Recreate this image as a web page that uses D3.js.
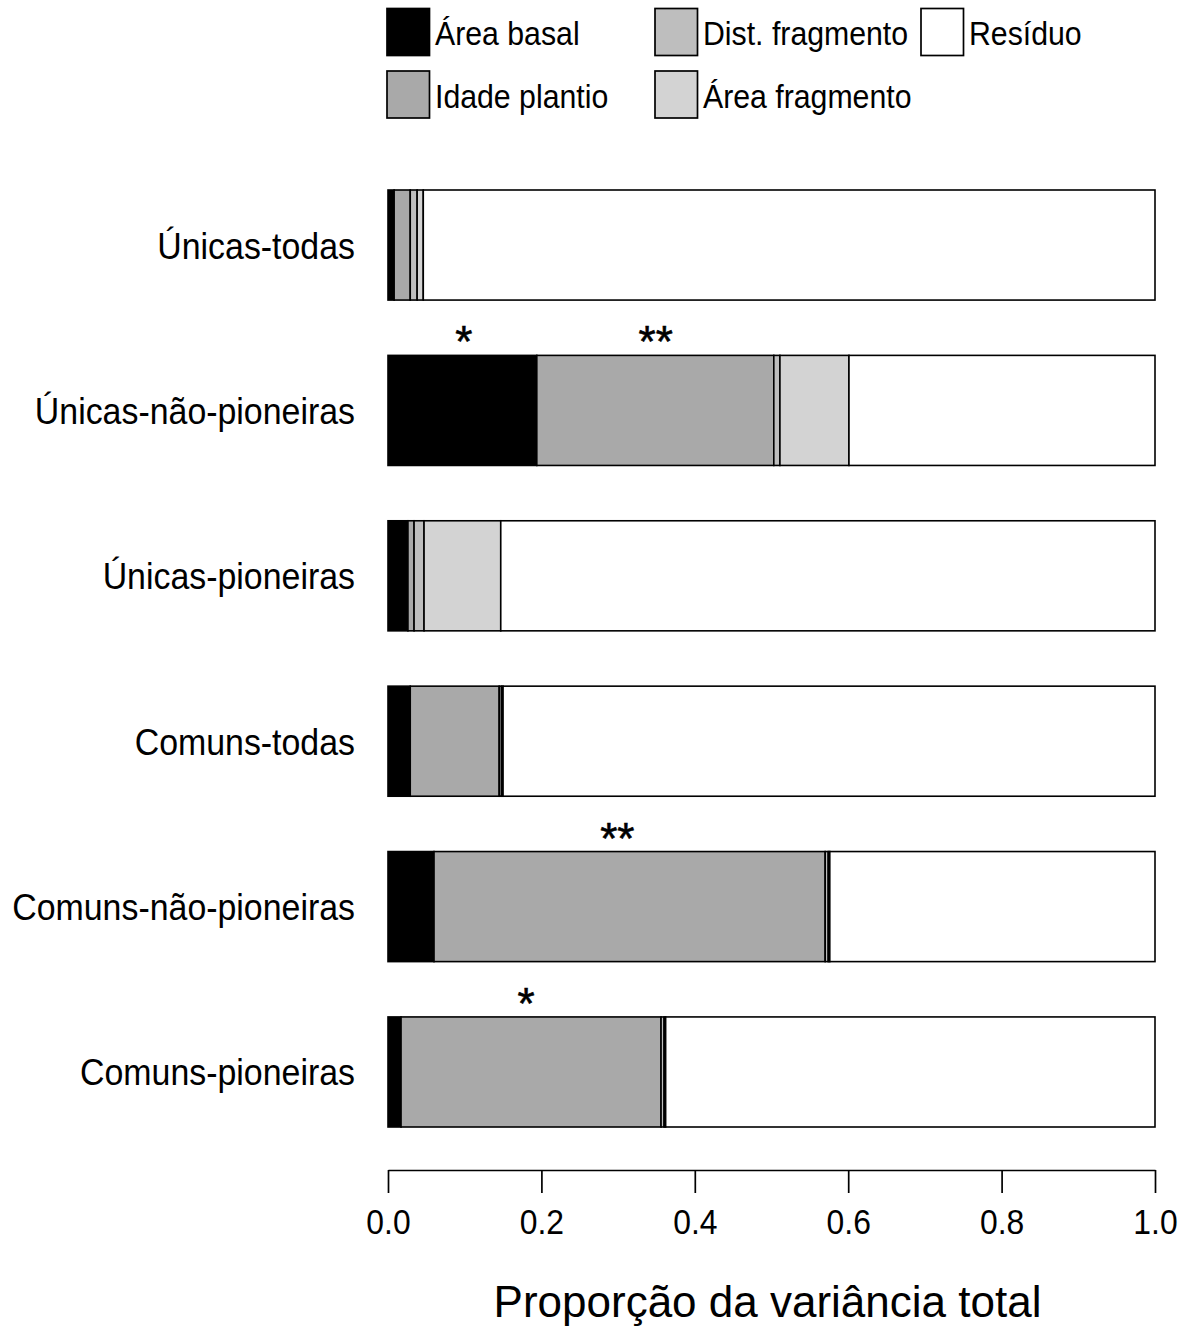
<!DOCTYPE html>
<html><head><meta charset="utf-8">
<script src="https://cdn.jsdelivr.net/npm/d3@7"></script>
<style>body{margin:0;background:#fff}</style>
</head><body>
<svg id="chart" width="1191" height="1330"></svg>
<script>
const categories = ["Únicas-todas","Únicas-não-pioneiras","Únicas-pioneiras","Comuns-todas","Comuns-não-pioneiras","Comuns-pioneiras"];
const seriesNames = ["Área basal","Idade plantio","Dist. fragmento","Área fragmento","Resíduo"];
const seriesColors = ["#000000","#a9a9a9","#bebebe","#d3d3d3","#ffffff"];
const areaBasal     = [0.008,0.194,0.026,0.029,0.060,0.017];
const idadePlantio  = [0.021,0.309,0.008,0.116,0.510,0.339];
const distFragmento = [0.009,0.008,0.013,0.003,0.004,0.004];
const areaFragmento = [0.008,0.090,0.100,0.002,0.002,0.002];
const residuo       = [0.954,0.399,0.853,0.850,0.424,0.638];
const sigCategories = ["Únicas-não-pioneiras","Únicas-não-pioneiras","Comuns-não-pioneiras","Comuns-pioneiras"];
const sigPositions  = [0.099,0.349,0.299,0.180];
const sigLabels     = ["*","**","**","*"];
const xTicks = [0,0.2,0.4,0.6,0.8,1.0];
const xTitle = "Proporção da variância total";

const FONT = "'Liberation Sans', Arial, sans-serif";
const svg = d3.select("#chart");
svg.append("rect").attr("width",1191).attr("height",1330).attr("fill","#fff");

const seriesValues = [areaBasal, idadePlantio, distFragmento, areaFragmento, residuo];
const rows = categories.map((c,i) => {
  const r = {cat:c};
  seriesNames.forEach((s,k) => r[s] = seriesValues[k][i]);
  return r;
});

const x = d3.scaleLinear().domain([0,1]).range([388,1155]);
const y = d3.scaleBand().domain(categories).range([190,1127]).paddingInner(0.3345).paddingOuter(0);
const color = d3.scaleOrdinal().domain(seriesNames).range(seriesColors);

const stacked = d3.stack().keys(seriesNames)(rows);

const g = svg.append("g");
stacked.forEach(layer => {
  g.selectAll(null).data(layer).enter().append("rect")
    .attr("x", d => x(d[0]))
    .attr("width", d => Math.max(0, x(d[1]) - x(d[0])))
    .attr("y", d => y(d.data.cat))
    .attr("height", y.bandwidth())
    .attr("fill", color(layer.key))
    .attr("stroke", "#000")
    .attr("stroke-width", 1.6);
});

// category labels
svg.selectAll(null).data(categories).enter().append("text")
  .attr("transform", d => `translate(355,${y(d)+y.bandwidth()/2+13.5}) scale(0.916,1)`)
  .attr("text-anchor","end")
  .attr("font-family",FONT).attr("font-size",37).attr("fill","#000")
  .text(d => d);

// significance marks
svg.selectAll(null).data(sigLabels).enter().append("text")
  .attr("x", (d,i) => x(sigPositions[i]))
  .attr("y", (d,i) => y(sigCategories[i]) + 2)
  .attr("text-anchor","middle")
  .attr("font-family",FONT).attr("font-size",44).attr("fill","#000")
  .attr("stroke","#000").attr("stroke-width",0.6)
  .text(d => d);

// axis
const axis = d3.axisBottom(x).tickValues(xTicks).tickFormat(d3.format(".1f"))
  .tickSize(23).tickSizeOuter(0).tickPadding(16);
const ax = svg.append("g").attr("transform","translate(0,1170)").call(axis);
ax.select(".domain").attr("stroke","#000").attr("stroke-width",1.7);
ax.selectAll(".tick line").attr("stroke","#000").attr("stroke-width",1.7);
ax.selectAll(".tick text").attr("font-family",FONT).attr("font-size",35).attr("fill","#000")
  .attr("transform","scale(0.91,1)");

svg.append("text")
  .attr("x", (x.range()[0]+x.range()[1])/2 - 4).attr("y",1317)
  .attr("text-anchor","middle")
  .attr("font-family",FONT).attr("font-size",44).attr("fill","#000")
  .text(xTitle);

// legend
const legColX = [387, 655, 921];
const legRowY = [8.5, 71];
const boxW = 42.5, boxH = 47;
const leg = svg.append("g");
seriesNames.forEach((s,i) => {
  const cx = legColX[Math.floor(i/2)], ry = legRowY[i%2];
  leg.append("rect").attr("x",cx).attr("y",ry).attr("width",boxW).attr("height",boxH)
    .attr("fill",color(s)).attr("stroke","#000").attr("stroke-width",1.7);
  leg.append("text")
    .attr("transform",`translate(${cx+boxW+5.5},${ry+boxH/2+13}) scale(0.89,1)`)
    .attr("font-family",FONT).attr("font-size",34).attr("fill","#000")
    .text(s);
});
</script>
</body></html>
